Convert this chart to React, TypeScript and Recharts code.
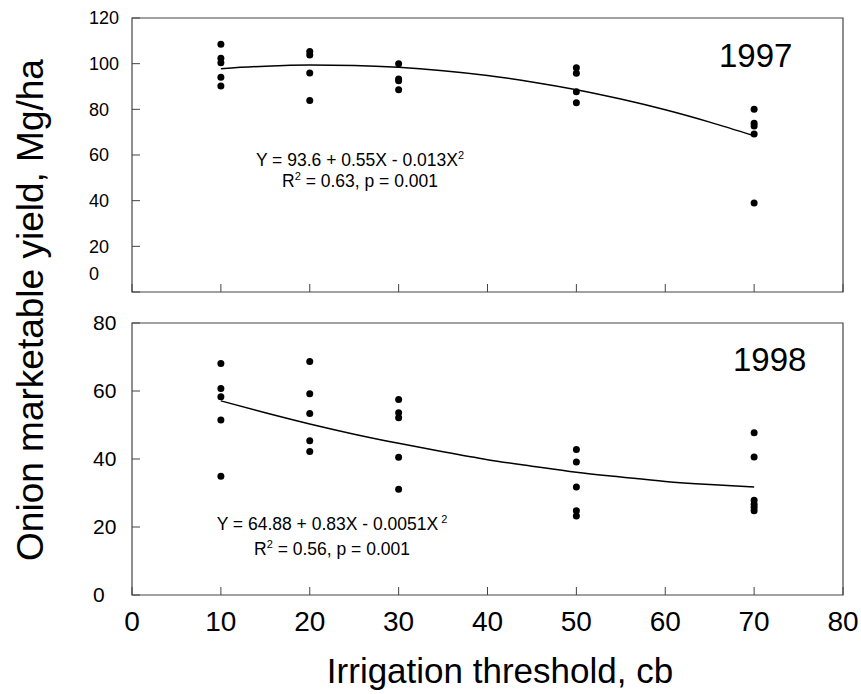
import React from 'react';
import {
  ComposedChart,
  Scatter,
  Line,
  XAxis,
  YAxis,
  ReferenceArea,
} from 'recharts';

// irrigation thresholds (cb) where yields were measured
const levels = [10, 20, 30, 50, 70];

// marketable yield, Mg/ha, one small list per threshold
const yield1997 = [
  [108.5, 102.4, 100.4, 94.0, 90.2],
  [105.3, 103.8, 95.9, 83.9],
  [100.0, 93.3, 92.5, 88.6],
  [98.2, 95.8, 87.7, 82.9],
  [80.0, 73.9, 72.7, 69.2, 39.0],
];
const yield1998 = [
  [68.1, 60.7, 58.3, 51.5, 34.9],
  [68.7, 59.2, 53.4, 45.4, 42.2],
  [57.5, 53.6, 52.1, 40.5, 31.1],
  [42.8, 39.1, 31.8, 24.8, 23.2],
  [47.7, 40.6, 27.9, 26.7, 25.8, 24.8],
];

// fitted curves
const fitX = [10, 15, 20, 25, 30, 35, 40, 45, 50, 55, 60, 65, 70];
const fit1997 = [97.8, 98.9, 99.4, 99.2, 98.4, 96.9, 94.8, 92.0, 88.6, 84.5, 79.8, 74.4, 68.4];
const fit1998 = [57.1, 53.6, 50.3, 47.3, 44.6, 42.1, 39.8, 37.9, 36.1, 34.7, 33.4, 32.5, 31.8];

const xTicks = [0, 10, 20, 30, 40, 50, 60, 70, 80];
const yTicks1997 = [0, 20, 40, 60, 80, 100, 120];
const yTicks1998 = [0, 20, 40, 60, 80];

const FONT = 'Arial, "Liberation Sans", sans-serif';
const BOX = '#444';

const toPoints = (rows: number[][]) =>
  levels.flatMap((x, i) => rows[i].map((y) => ({ x, y })));
const toFit = (ys: number[]) => fitX.map((x, i) => ({ x, y: ys[i] }));

const Dot = (p: any) => <circle cx={p.cx} cy={p.cy} r={3.5} fill="#000" />;

function makeYTick(fontSize: number, labelX: number, zeroShift: number) {
  return (props: any) => {
    const { x, y, payload } = props;
    const v = payload.value;
    return (
      <g>
        <line x1={x} x2={x + 8} y1={y} y2={y} stroke={BOX} strokeWidth={1} />
        <text
          x={labelX}
          y={y + (v === 0 ? zeroShift : 0)}
          dy="0.35em"
          textAnchor="start"
          fontSize={fontSize}
          fontFamily={FONT}
          fill="#000"
        >
          {v}
        </text>
      </g>
    );
  };
}

function makeXTick(showLabel: boolean) {
  return (props: any) => {
    const { x, y, payload } = props;
    return (
      <g>
        <line x1={x} x2={x} y1={y} y2={y - 8} stroke={BOX} strokeWidth={1} />
        {showLabel && (
          <text
            x={x}
            y={y + 36}
            textAnchor="middle"
            fontSize={28}
            fontFamily={FONT}
            fill="#000"
          >
            {payload.value}
          </text>
        )}
      </g>
    );
  };
}

function Panel({
  height,
  margin,
  yMax,
  yTicks,
  points,
  fit,
  yFont,
  labelX,
  zeroShift,
  showXLabels,
}: any) {
  return (
    <ComposedChart width={861} height={height} margin={margin}>
      <XAxis
        type="number"
        dataKey="x"
        domain={[0, 80]}
        ticks={xTicks}
        height={1}
        axisLine={false}
        tickLine={false}
        tickSize={0}
        tickMargin={0}
        tick={makeXTick(showXLabels)}
        interval={0}
      />
      <YAxis
        type="number"
        dataKey="y"
        domain={[0, yMax]}
        ticks={yTicks}
        width={1}
        axisLine={false}
        tickLine={false}
        tickSize={0}
        tickMargin={0}
        tick={makeYTick(yFont, labelX, zeroShift)}
        interval={0}
      />
      <ReferenceArea
        x1={0}
        x2={80}
        y1={0}
        y2={yMax}
        fill="none"
        stroke={BOX}
        strokeWidth={1.2}
        ifOverflow="visible"
      />
      <Line
        data={fit}
        dataKey="y"
        type="monotone"
        dot={false}
        stroke="#000"
        strokeWidth={1.5}
        isAnimationActive={false}
      />
      <Scatter data={points} dataKey="y" shape={Dot} isAnimationActive={false} />
    </ComposedChart>
  );
}

export default function App() {
  return (
    <div
      style={{
        position: 'absolute',
        left: 0,
        top: 0,
        width: 861,
        height: 694,
        background: '#fff',
        fontFamily: FONT,
      }}
    >
      <div style={{ position: 'absolute', left: 0, top: 0 }}>
        <Panel
          height={300}
          margin={{ top: 18, right: 18, bottom: 7, left: 131 }}
          yMax={120}
          yTicks={yTicks1997}
          points={toPoints(yield1997)}
          fit={toFit(fit1997)}
          yFont={18}
          labelX={89}
          zeroShift={-18}
          showXLabels={false}
        />
      </div>
      <div style={{ position: 'absolute', left: 0, top: 300 }}>
        <Panel
          height={394}
          margin={{ top: 23, right: 18, bottom: 98, left: 131 }}
          yMax={80}
          yTicks={yTicks1998}
          points={toPoints(yield1998)}
          fit={toFit(fit1998)}
          yFont={21}
          labelX={93}
          zeroShift={0}
          showXLabels={true}
        />
      </div>
      <svg
        width={861}
        height={694}
        style={{ position: 'absolute', left: 0, top: 0, pointerEvents: 'none' }}
        fontFamily={FONT}
      >
        <text
          x={43}
          y={310}
          transform="rotate(-90, 43, 310)"
          textAnchor="middle"
          fontSize={37}
          fill="#000"
        >
          Onion marketable yield, Mg/ha
        </text>
        <text x={500} y={683} textAnchor="middle" fontSize={35} fill="#000">
          Irrigation threshold, cb
        </text>
        <text x={719} y={67} fontSize={33} fill="#000">
          1997
        </text>
        <text x={733} y={371} fontSize={33} fill="#000">
          1998
        </text>
        <text x={360} y={166} textAnchor="middle" fontSize={17.5} fill="#000">
          Y = 93.6 + 0.55X - 0.013X
          <tspan dy={-7} fontSize={11}>
            2
          </tspan>
        </text>
        <text x={360} y={187} textAnchor="middle" fontSize={17.5} fill="#000">
          R
          <tspan dy={-7} fontSize={11}>
            2
          </tspan>
          <tspan dy={7}> = 0.63, p = 0.001</tspan>
        </text>
        <text x={332} y={530} textAnchor="middle" fontSize={17.5} fill="#000">
          Y = 64.88 + 0.83X - 0.0051X
          <tspan dy={-7} fontSize={11}>
            {' 2'}
          </tspan>
        </text>
        <text x={332} y={555} textAnchor="middle" fontSize={17.5} fill="#000">
          R
          <tspan dy={-7} fontSize={11}>
            2
          </tspan>
          <tspan dy={7}> = 0.56, p = 0.001</tspan>
        </text>
      </svg>
    </div>
  );
}
